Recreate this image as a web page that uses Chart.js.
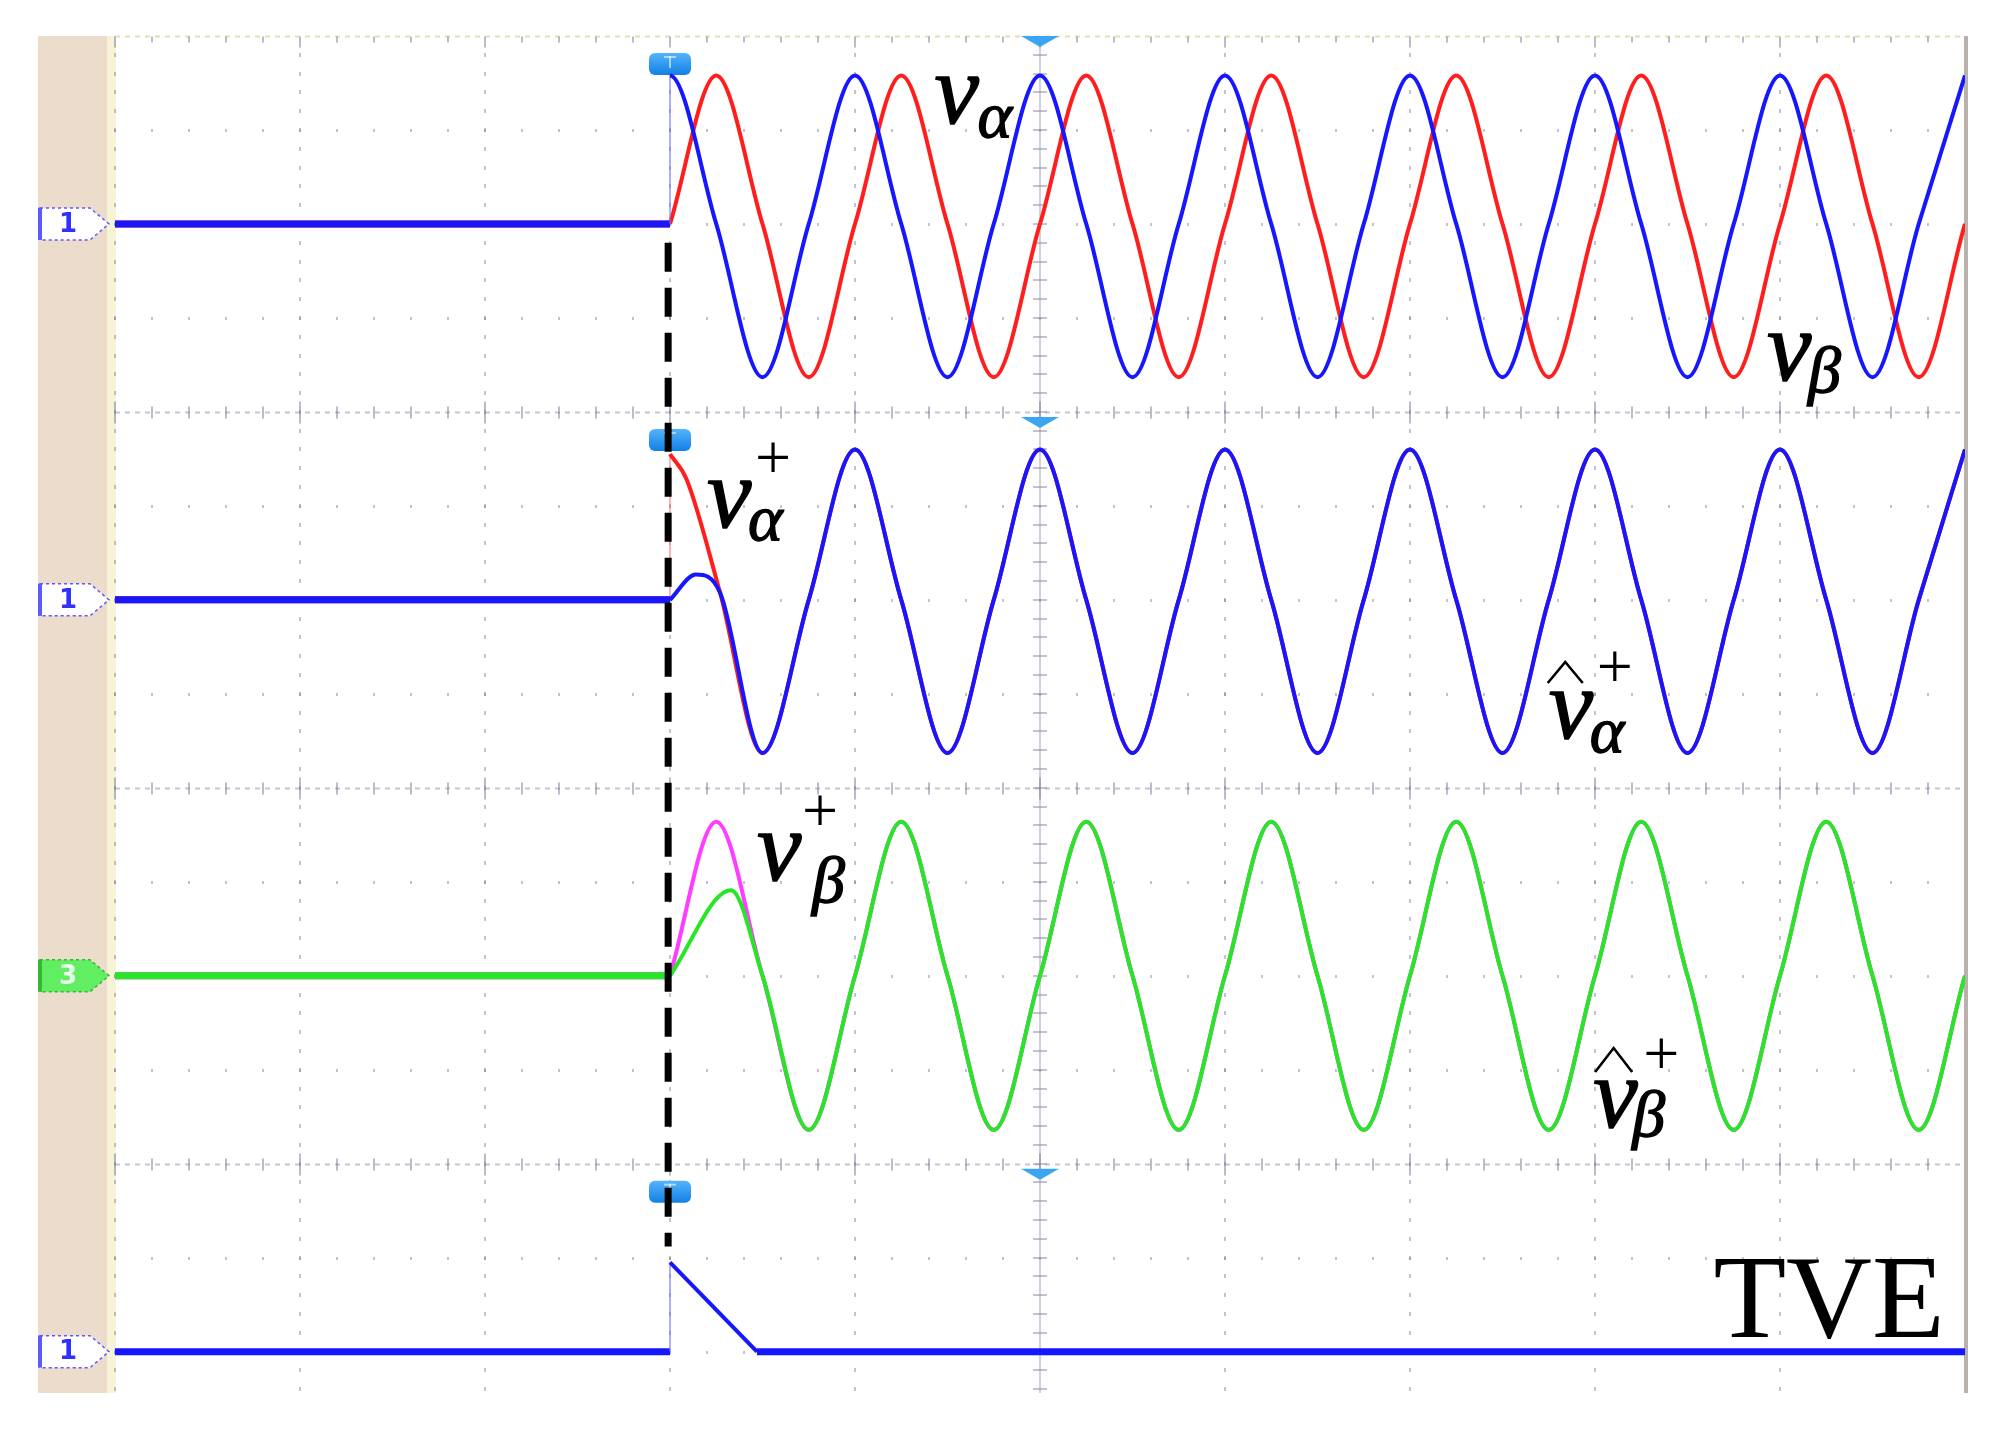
<!DOCTYPE html>
<html>
<head>
<meta charset="utf-8">
<script src="https://cdn.jsdelivr.net/npm/chart.js@4.4.1/dist/chart.umd.min.js"></script>
<style>
  html, body { margin: 0; background: #fff; }
  #wrap { width: 2004px; height: 1432px; position: relative; }
</style>
</head>
<body>
<div id="wrap"><canvas id="scope"></canvas></div>
<script>
/* Scope capture: v_alpha/v_beta, positive-sequence estimates and TVE, drawn with Chart.js v4. */
(function () {
  // x in divisions (1 div = 1 cycle), y in half-divisions, every channel offset by its ref level
  var Y_MIN = -14.44, Y_MAX = 0;
  var REF = [-2, -6, -10, -14];
  var PANEL_TOP = [0, -4, -8, -12];

  var T_FLAT = [0, 3], V_FLAT = [0, 0];
  var T_STEADY = [3.5, 3.75, 4, 4.25, 4.5, 4.75, 5, 5.25, 5.5, 5.75, 6, 6.25, 6.5, 6.75, 7,
                  7.25, 7.5, 7.75, 8, 8.25, 8.5, 8.75, 9, 9.25, 9.5, 9.75, 10];

  // panel 1: blue jumps to its crest, red starts from zero
  var T_VA_STEP = [3, 3.25], V_VA_STEP = [1.58, 0];
  var V_VA = [-1.63, 0, 1.58, 0, -1.63, 0, 1.58, 0, -1.63, 0, 1.58, 0, -1.63, 0,
              1.58, 0, -1.63, 0, 1.58, 0, -1.63, 0, 1.58, 0, -1.63, 0, 1.58];
  var T_VB_STEP = [3, 3.25], V_VB_STEP = [0, 1.58];
  var V_VB = [0, -1.63, 0, 1.58, 0, -1.63, 0, 1.58, 0, -1.63, 0, 1.58, 0, -1.63,
              0, 1.58, 0, -1.63, 0, 1.58, 0, -1.63, 0, 1.58, 0, -1.63, 0];

  // panel 2: v_alpha+ (red) and its estimate (blue)
  var V_AP_JUMP = 1.55;
  var T_AP_STEP = [3, 3.09, 3.27], V_AP_STEP = [1.55, 1.28, 0.08];
  var T_APH_STEP = [3, 3.14, 3.27], V_APH_STEP = [0, 0.27, 0.08];
  var V_AP = [-1.63, 0, 1.6, 0, -1.63, 0, 1.6, 0, -1.63, 0, 1.6, 0, -1.63, 0,
              1.6, 0, -1.63, 0, 1.6, 0, -1.63, 0, 1.6, 0, -1.63, 0, 1.6];

  // panel 3: v_beta+ (magenta) and its estimate (green)
  var T_BP_STEP = [3, 3.25], V_BP_STEP = [0, 1.64];
  var T_BPH_STEP = [3, 3.33], V_BPH_STEP = [0, 0.91];
  var V_BP = [0, -1.64, 0, 1.64, 0, -1.64, 0, 1.64, 0, -1.64, 0, 1.64, 0, -1.64,
              0, 1.64, 0, -1.64, 0, 1.64, 0, -1.64, 0, 1.64, 0, -1.64, 0];

  // panel 4: total vector error
  var T_TVE = [0, 3, 3, 3.47, 10], V_TVE = [0, 0, 0.95, 0, 0];

  // step instant marker (black dashed)
  var T_DASH = [2.99, 2.99], Y_DASH = [-2.2, -12.88];
  var TRIGGER_T = 3, TIMEREF_T = 5, MARKED_PANELS = [0, 1, 3];

  var BLUE = "#1616ff", RED = "#ff1e1e", MAGENTA = "#ff3cff", GREEN = "#26e626";

  function pts(ref, t, v) {
    return t.map(function (x, i) { return { x: x, y: v[i] === null ? null : ref + v[i] }; });
  }
  function line(data, color, faint, order, extra) {
    return Object.assign({
      data: data, borderColor: color, borderWidth: 4, pointRadius: 0, order: order,
      cubicInterpolationMode: "monotone", spanGaps: false, borderJoinStyle: "round",
      segment: {
        borderColor: function (s) { return s.p0.parsed.x === s.p1.parsed.x ? faint : undefined; },
        borderWidth: function (s) {
          if (s.p0.parsed.x === s.p1.parsed.x) return 2;
          return s.p0.parsed.y === s.p1.parsed.y ? 7 : undefined;
        }
      }
    }, extra || {});
  }

  var datasets = [
    { data: pts(0, T_DASH, Y_DASH), borderColor: "#000", borderWidth: 7, borderDash: [29, 16],
      pointRadius: 0, order: 0, tension: 0 },
    line(pts(REF[0], T_FLAT.concat(T_VA_STEP, T_STEADY), V_FLAT.concat(V_VA_STEP, V_VA)), BLUE, "rgba(110,110,255,.55)", 2),
    line(pts(REF[0], T_FLAT.concat([3], T_VB_STEP, T_STEADY), V_FLAT.concat([null], V_VB_STEP, V_VB)), RED, "rgba(255,120,120,.55)", 3),
    line(pts(REF[1], T_FLAT.concat([3], T_APH_STEP, T_STEADY), V_FLAT.concat([null], V_APH_STEP, V_AP)), BLUE, "rgba(110,110,255,.55)", 2),
    line(pts(REF[1], T_FLAT.concat([3, 3], T_AP_STEP, T_STEADY), V_FLAT.concat([V_AP_JUMP, null], V_AP_STEP, V_AP)), RED, "rgba(255,120,120,.55)", 3),
    line(pts(REF[2], T_FLAT.concat([3], T_BPH_STEP, T_STEADY), V_FLAT.concat([null], V_BPH_STEP, V_BP)), GREEN, "rgba(120,240,120,.55)", 2),
    line(pts(REF[2], T_FLAT.concat([3], T_BP_STEP, T_STEADY), V_FLAT.concat([null], V_BP_STEP, V_BP)), MAGENTA, "rgba(255,140,255,.55)", 3),
    line(pts(REF[3], T_TVE, V_TVE), BLUE, "rgba(110,110,255,.55)", 2, { cubicInterpolationMode: "default", tension: 0 })
  ];

  // label anchors (x in div, y in half-div), parts: [text, italic?, size px, dx, dy]; hat: [dx, dy, w, h]
  var LABELS = [
    { t: 4.43, y: -0.93, parts: [["v", 1, 100, 0, 0], ["\u03b1", 1, 66, 43, 14]] },
    { t: 8.93, y: -3.66, parts: [["v", 1, 100, 0, 0], ["\u03b2", 1, 66, 41, 12]] },
    { t: 3.20, y: -5.22, parts: [["v", 1, 100, 0, 0], ["\u03b1", 1, 66, 41, 13], ["+", 0, 64, 48, -48]] },
    { t: 7.75, y: -7.47, hat: [-1, -55, 35, 21],
      parts: [["v", 1, 100, 0, 0], ["\u03b1", 1, 66, 41, 14], ["+", 0, 64, 48, -50]] },
    { t: 3.47, y: -8.98, parts: [["v", 1, 100, 0, 0], ["+", 0, 64, 45, -48], ["\u03b2", 1, 66, 55, 22]] },
    { t: 7.99, y: -11.61, hat: [2, -55, 37, 24],
      parts: [["v", 1, 100, 0, 0], ["+", 0, 64, 50, -52], ["\u03b2", 1, 66, 39, 9]] },
    { t: 8.64, y: -13.84, parts: [["TVE", 0, 119, 0, 0]] }
  ];

  function tab(c, y, fill, edge, text, ink) {
    c.beginPath();
    c.moveTo(40, y - 16); c.lineTo(90, y - 16); c.lineTo(109, y); c.lineTo(90, y + 16); c.lineTo(40, y + 16);
    c.closePath();
    c.fillStyle = fill; c.fill();
    c.setLineDash([3, 3]); c.strokeStyle = edge; c.lineWidth = 1.5; c.stroke(); c.setLineDash([]);
    c.fillStyle = edge; c.fillRect(38, y - 16, 4, 32);
    c.font = 'bold 26px "DejaVu Sans"'; c.textAlign = "center"; c.textBaseline = "middle";
    c.fillStyle = ink; c.fillText(text, 68, y + 1);
  }

  var scopeBg = {
    id: "scopeBg",
    beforeDraw: function (ch) {
      var c = ch.ctx, a = ch.chartArea;
      c.save();
      c.fillStyle = "#fff"; c.fillRect(0, 0, ch.width, ch.height);
      c.fillStyle = "#ebdccb"; c.fillRect(38, a.top, a.left - 46, a.bottom - a.top);
      c.fillStyle = "#f7f3d6"; c.fillRect(a.left - 8, a.top, 9, a.bottom - a.top);
      c.restore();
    },
    beforeDatasetsDraw: function (ch) {
      var c = ch.ctx, a = ch.chartArea, xs = ch.scales.x, ys = ch.scales.y;
      function X(v) { return xs.getPixelForValue(v); }
      function Y(v) { return ys.getPixelForValue(v); }
      var i, j, px, py, nY = Math.floor((Y_MAX - Y_MIN) / 0.2);
      c.save();
      // half-division rows
      c.fillStyle = "rgba(120,120,150,.45)";
      for (i = 1; i <= 14; i++) {
        if (i % 4 === 0) continue;
        py = Math.round(Y(-i));
        for (j = 0; j <= 50; j++) c.fillRect(Math.round(X(j * 0.2)) - 1, py - 1, 2, 3);
      }
      // division columns
      for (i = 0; i <= 10; i++) {
        if (i === 5) continue;
        px = Math.round(X(i));
        for (j = 1; j <= nY; j++) c.fillRect(px - 1, Math.round(Y(-j * 0.2)) - 2, 2, 4);
      }
      // centre column
      px = Math.round(X(5));
      c.fillStyle = "rgba(150,150,185,.45)"; c.fillRect(px - 1, a.top, 2, a.bottom - a.top);
      c.fillStyle = "rgba(120,120,150,.45)";
      for (j = 1; j <= nY; j++) c.fillRect(px - 7, Math.round(Y(-j * 0.2)) - 1, 14, 2);
      // panel borders with ticks
      PANEL_TOP.forEach(function (b, k) {
        py = Math.round(Y(b)) + 0.5;
        c.strokeStyle = k === 0 ? "rgba(225,220,170,.9)" : "rgba(150,150,175,.55)";
        c.lineWidth = 2; c.setLineDash([5, 5]);
        c.beginPath(); c.moveTo(a.left, py); c.lineTo(a.right, py); c.stroke();
        c.setLineDash([]);
        c.fillStyle = "rgba(120,120,150,.5)";
        for (j = 0; j <= 50; j++) {
          var len = j % 5 === 0 ? 11 : 6;
          c.fillRect(Math.round(X(j * 0.2)) - 1, py - (k === 0 ? 0 : len), 2, k === 0 ? len : 2 * len);
        }
      });
      // right frame
      c.fillStyle = "#b9b1aa"; c.fillRect(a.right - 1, a.top, 4, a.bottom - a.top);
      // channel tabs
      tab(c, Y(REF[0]), "#fff", "#5a5aff", "1", "#3030ff");
      tab(c, Y(REF[1]), "#fff", "#5a5aff", "1", "#3030ff");
      tab(c, Y(REF[2]), "#62ee62", "#34b834", "3", "#eaffea");
      tab(c, Y(REF[3]), "#fff", "#5a5aff", "1", "#3030ff");
      // time reference and trigger markers
      MARKED_PANELS.forEach(function (p) {
        var top = Y(PANEL_TOP[p]) + (p === 0 ? 0 : 5), cx = X(TIMEREF_T);
        c.fillStyle = "#3aa6f2";
        c.beginPath(); c.moveTo(cx - 19, top); c.lineTo(cx + 19, top); c.lineTo(cx, top + 11); c.closePath(); c.fill();
        var tx = X(TRIGGER_T), ty = Y(PANEL_TOP[p]) + 28;
        var g = c.createLinearGradient(0, ty - 11, 0, ty + 11);
        g.addColorStop(0, "#55b4fa"); g.addColorStop(1, "#1280e6");
        c.fillStyle = g;
        c.beginPath(); c.roundRect(tx - 21, ty - 11, 42, 22, 6); c.fill();
        c.fillStyle = "rgba(255,255,255,.55)";
        c.fillRect(tx - 6, ty - 8, 12, 2); c.fillRect(tx - 1, ty - 8, 2, 12);
      });
      c.restore();
    },
    afterDatasetsDraw: function (ch) {
      var c = ch.ctx, xs = ch.scales.x, ys = ch.scales.y;
      c.save();
      c.fillStyle = "#000"; c.strokeStyle = "#000";
      c.textAlign = "left"; c.textBaseline = "alphabetic";
      LABELS.forEach(function (l) {
        var x0 = xs.getPixelForValue(l.t), y0 = ys.getPixelForValue(l.y);
        l.parts.forEach(function (p) {
          c.font = (p[1] ? "italic " : "") + p[2] + 'px "Liberation Serif"';
          c.fillText(p[0], x0 + p[3], y0 + p[4]);
          if (p[1]) { c.lineWidth = 1.4; c.strokeText(p[0], x0 + p[3], y0 + p[4]); }
        });
        if (l.hat) {
          var h = l.hat;
          c.lineWidth = 2.6; c.lineJoin = "miter";
          c.beginPath();
          c.moveTo(x0 + h[0], y0 + h[1]);
          c.lineTo(x0 + h[0] + h[2] / 2, y0 + h[1] - h[3]);
          c.lineTo(x0 + h[0] + h[2], y0 + h[1]);
          c.stroke();
        }
      });
      c.restore();
    }
  };

  new Chart(document.getElementById("scope"), {
    type: "line",
    data: { datasets: datasets },
    options: {
      responsive: true, maintainAspectRatio: false, animation: false, devicePixelRatio: 1,
      layout: { padding: { left: 115, right: 39, top: 36, bottom: 39 } },
      scales: {
        x: { type: "linear", min: 0, max: 10, display: false },
        y: { type: "linear", min: Y_MIN, max: Y_MAX, display: false }
      },
      plugins: { legend: { display: false }, tooltip: { enabled: false } },
      events: []
    },
    plugins: [scopeBg]
  });
})();
</script>
</body>
</html>
